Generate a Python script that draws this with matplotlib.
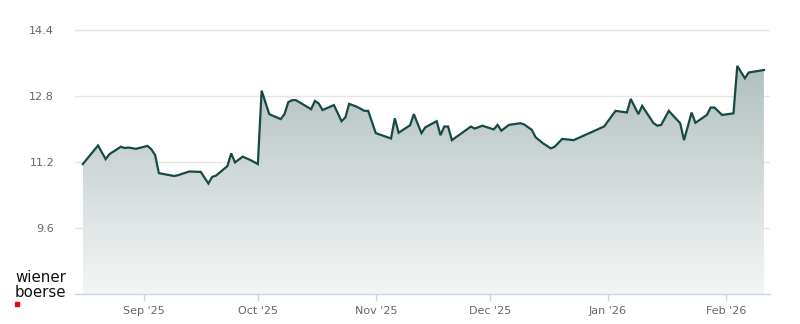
import numpy as np
import pandas as pd
import matplotlib
matplotlib.use('Agg')
import matplotlib.pyplot as plt
import matplotlib.dates as mdates
from matplotlib.colors import LinearSegmentedColormap
from matplotlib.patches import Rectangle

# Kursverlauf
dates = ['2025-08-16', '2025-08-20', '2025-08-22', '2025-08-23', '2025-08-26', '2025-08-27',
         '2025-08-28', '2025-08-30', '2025-09-02', '2025-09-03', '2025-09-04', '2025-09-05',
         '2025-09-09', '2025-09-10', '2025-09-13', '2025-09-16', '2025-09-18', '2025-09-19',
         '2025-09-20', '2025-09-23', '2025-09-24', '2025-09-25', '2025-09-27', '2025-09-29',
         '2025-10-01', '2025-10-02', '2025-10-04', '2025-10-07', '2025-10-08', '2025-10-09',
         '2025-10-10', '2025-10-11', '2025-10-15', '2025-10-16', '2025-10-17', '2025-10-18',
         '2025-10-21', '2025-10-23', '2025-10-24', '2025-10-25', '2025-10-27', '2025-10-29',
         '2025-10-30', '2025-11-01', '2025-11-05', '2025-11-06', '2025-11-07', '2025-11-10',
         '2025-11-11', '2025-11-13', '2025-11-14', '2025-11-17', '2025-11-18', '2025-11-19',
         '2025-11-20', '2025-11-21', '2025-11-26', '2025-11-27', '2025-11-29', '2025-12-02',
         '2025-12-03', '2025-12-04', '2025-12-06', '2025-12-09', '2025-12-10', '2025-12-12',
         '2025-12-13', '2025-12-15', '2025-12-17', '2025-12-18', '2025-12-20', '2025-12-23',
         '2025-12-30', '2025-12-31', '2026-01-03', '2026-01-06', '2026-01-07', '2026-01-09',
         '2026-01-10', '2026-01-13', '2026-01-14', '2026-01-15', '2026-01-17', '2026-01-20',
         '2026-01-21', '2026-01-23', '2026-01-24', '2026-01-27', '2026-01-28', '2026-01-29',
         '2026-01-31', '2026-02-03', '2026-02-04', '2026-02-06', '2026-02-07', '2026-02-11']
prices = [11.15, 11.60, 11.27, 11.39, 11.57, 11.54,
          11.55, 11.52, 11.59, 11.51, 11.37, 10.93,
          10.86, 10.88, 10.97, 10.96, 10.68, 10.84,
          10.87, 11.10, 11.41, 11.19, 11.33, 11.25,
          11.15, 12.93, 12.36, 12.24, 12.36, 12.65,
          12.70, 12.70, 12.48, 12.68, 12.62, 12.46,
          12.58, 12.19, 12.28, 12.61, 12.54, 12.44,
          12.44, 11.90, 11.77, 12.26, 11.91, 12.09,
          12.36, 11.90, 12.04, 12.19, 11.85, 12.06,
          12.06, 11.73, 12.06, 12.01, 12.08, 11.99,
          12.10, 11.96, 12.10, 12.14, 12.11, 11.98,
          11.80, 11.65, 11.53, 11.57, 11.76, 11.73,
          12.02, 12.06, 12.44, 12.40, 12.73, 12.36,
          12.56, 12.14, 12.08, 12.10, 12.44, 12.14,
          11.73, 12.40, 12.15, 12.34, 12.52, 12.52,
          12.34, 12.38, 13.53, 13.23, 13.37, 13.43]
y_ticks = [9.6, 11.2, 12.8, 14.4]
x_ticks = ['2025-09-01', '2025-10-01', '2025-11-01', '2025-12-01', '2026-01-01', '2026-02-01']
x_labels = ["Sep '25", "Oct '25", "Nov '25", "Dec '25", "Jan '26", "Feb '26"]

df = pd.DataFrame({'date': pd.to_datetime(dates), 'price': prices})
x = mdates.date2num(df['date'])
y = df['price'].values

line_col = '#174a44'
text_col = '#666666'
axis_col = '#ccd6eb'

fig = plt.figure(figsize=(8, 3.24), dpi=100)
ax = fig.add_axes([75 / 800, 30 / 324, 695 / 800, 284 / 324])

x0 = mdates.date2num(pd.Timestamp('2025-09-01')) - 18.05
x1 = mdates.date2num(pd.Timestamp('2025-09-01')) + 164.6

# Verlaufsfüllung unter der Linie
cmap = LinearSegmentedColormap.from_list('fill', ['#f4f6f6', '#b1c0be'])
grad = np.linspace(0, 1, 256).reshape(-1, 1)
poly = ax.fill_between(x, y, 8.0, color='none', lw=0)
img = ax.imshow(grad, cmap=cmap, aspect='auto', origin='lower',
                extent=[x[0], x[-1], 8.0, y.max()], zorder=1)
img.set_clip_path(poly.get_paths()[0], transform=ax.transData)
ax.set_xlim(x0, x1)
ax.set_ylim(8.0, 14.885)

ax.plot(x, y, color=line_col, lw=1.6, zorder=3, solid_joinstyle='miter')

ax.set_yticks(y_ticks)
ax.set_yticklabels([f'{t:.1f}' for t in y_ticks])
ax.grid(axis='y', color='#e6e6e6', lw=1, zorder=0)
ax.set_axisbelow(True)

ax.set_xticks(mdates.date2num(pd.to_datetime(x_ticks)))
ax.set_xticklabels(x_labels)

for s in ['top', 'right', 'left']:
    ax.spines[s].set_visible(False)
ax.spines['bottom'].set_color(axis_col)
ax.spines['bottom'].set_linewidth(1)

ax.tick_params(axis='y', length=0, pad=15, labelsize=8, labelcolor=text_col)
ax.tick_params(axis='x', length=5, width=1, color=axis_col, pad=4, labelsize=8, labelcolor=text_col)

# Logo
fig.text(15 / 800, 1 - 282 / 324, 'wiener', fontsize=10.8, color='#111111', ha='left', va='baseline')
fig.text(15 / 800, 1 - 297 / 324, 'boerse', fontsize=10.8, color='#111111', ha='left', va='baseline')
fig.patches.append(Rectangle((15 / 800, 1 - 306 / 324), 4 / 800, 4 / 324,
                             transform=fig.transFigure, color='#e30613', figure=fig))

fig.savefig('out.png', dpi=100)
